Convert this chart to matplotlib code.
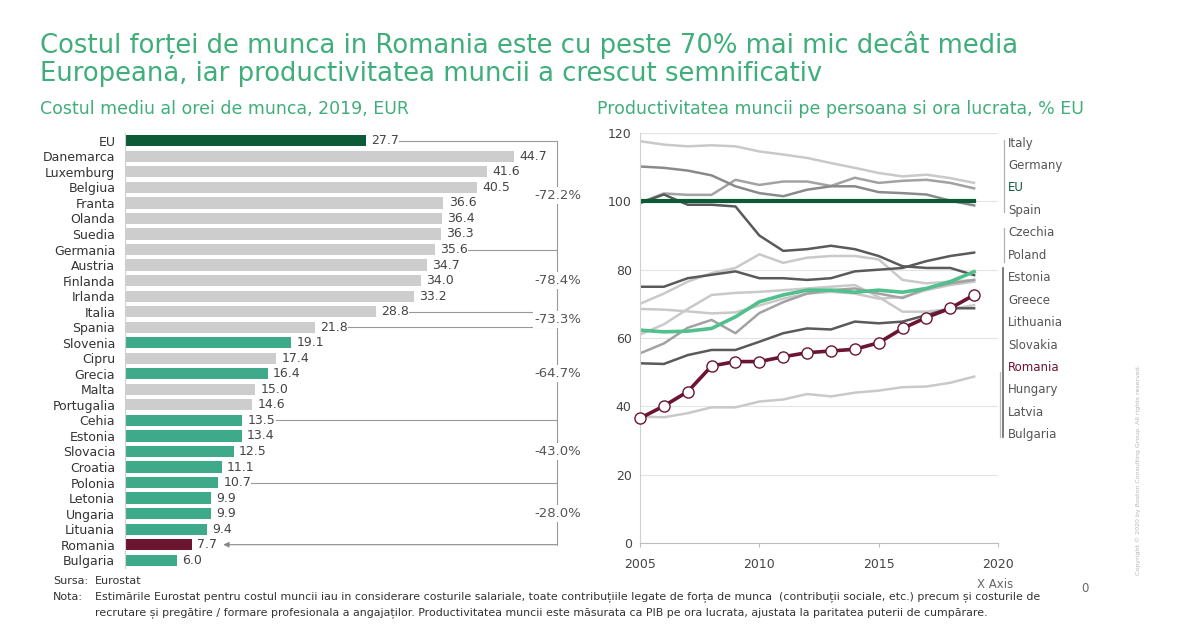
import matplotlib
matplotlib.use("Agg")
import matplotlib.pyplot as plt
from matplotlib.lines import Line2D

# ---- data: labour cost per hour, 2019, EUR ----
countries = ["EU", "Danemarca", "Luxemburg", "Belgiua", "Franta", "Olanda", "Suedia",
             "Germania", "Austria", "Finlanda", "Irlanda", "Italia", "Spania", "Slovenia",
             "Cipru", "Grecia", "Malta", "Portugalia", "Cehia", "Estonia", "Slovacia",
             "Croatia", "Polonia", "Letonia", "Ungaria", "Lituania", "Romania", "Bulgaria"]
cost = [27.7, 44.7, 41.6, 40.5, 36.6, 36.4, 36.3, 35.6, 34.7, 34.0, 33.2, 28.8, 21.8, 19.1,
        17.4, 16.4, 15.0, 14.6, 13.5, 13.4, 12.5, 11.1, 10.7, 9.9, 9.9, 9.4, 7.7, 6.0]
group = ["eu", "w", "w", "w", "w", "w", "w", "w", "w", "w", "w", "w", "w", "e",
         "w", "e", "w", "w", "e", "e", "e", "e", "e", "e", "e", "e", "ro", "e"]

# Romania compared with these countries
compare_with = ["EU", "Germania", "Italia", "Spania", "Cehia", "Polonia"]
compare_pct = ["-72.2%", "-78.4%", "-73.3%", "-64.7%", "-43.0%", "-28.0%"]

# ---- data: labour productivity per hour, % EU ----
years = [2005, 2006, 2007, 2008, 2009, 2010, 2011, 2012, 2013, 2014, 2015, 2016, 2017, 2018, 2019]
italy = [117.6, 116.6, 116.1, 116.4, 116.1, 114.6, 113.7, 112.7, 111.2, 109.8, 108.3, 107.3, 107.8, 106.8, 105.4]
germany = [99.6, 102.3, 101.9, 101.9, 106.3, 104.8, 105.8, 105.8, 104.5, 106.9, 105.4, 106.0, 106.3, 105.4, 103.8]
spain = [110.2, 109.8, 109.0, 107.6, 104.4, 102.4, 101.5, 103.4, 104.4, 104.4, 102.7, 102.4, 102.0, 100.2, 98.8]
eu = [100, 100, 100, 100, 100, 100, 100, 100, 100, 100, 100, 100, 100, 100, 100]
greece = [99.5, 102.0, 99.0, 99.0, 98.5, 90.0, 85.5, 86.0, 87.0, 86.0, 84.0, 81.0, 80.5, 80.5, 78.4]
czechia = [75.0, 75.0, 77.5, 78.5, 79.5, 77.5, 77.5, 77.0, 77.5, 79.5, 80.0, 80.5, 82.5, 84.0, 85.0]
slovakia = [70.0, 73.0, 76.5, 79.0, 80.5, 84.5, 82.0, 83.5, 84.0, 84.0, 83.0, 77.0, 76.0, 76.5, 77.0]
poland = [62.3, 61.8, 62.0, 62.8, 66.2, 70.6, 72.6, 74.0, 74.0, 73.4, 74.0, 73.4, 74.5, 76.5, 79.4]
lithuania = [55.5, 58.4, 63.0, 65.3, 61.4, 67.3, 70.5, 73.0, 74.0, 74.5, 73.0, 71.7, 74.5, 76.0, 77.0]
estonia = [61.0, 64.0, 68.5, 72.6, 73.2, 73.5, 74.0, 74.5, 75.0, 75.5, 72.0, 67.7, 67.7, 68.5, 69.6]
hungary = [68.5, 68.3, 67.8, 67.2, 67.5, 69.5, 71.5, 73.0, 73.5, 73.0, 71.5, 72.0, 74.0, 75.5, 76.5]
latvia = [52.6, 52.4, 55.0, 56.5, 56.5, 58.9, 61.4, 62.8, 62.5, 64.8, 64.3, 64.8, 66.7, 68.7, 68.7]
romania = [36.5, 40.1, 44.3, 51.8, 53.1, 53.1, 54.5, 55.7, 56.2, 56.7, 58.6, 62.8, 66.0, 68.7, 72.6]
bulgaria = [37.0, 36.8, 38.0, 39.7, 39.7, 41.4, 42.0, 43.6, 42.9, 44.0, 44.6, 45.6, 45.8, 46.9, 48.7]

label_names = ["Italy", "Germany", "EU", "Spain", "Czechia", "Poland", "Estonia", "Greece",
               "Lithuania", "Slovakia", "Romania", "Hungary", "Latvia", "Bulgaria"]

# colours
GREEN_TITLE = "#3fae7a"
EU_GREEN = "#0d5a36"
TEAL = "#3faa8a"
BAR_GRAY = "#cdcdcd"
RO_RED = "#6b1530"
TXT = "#444444"
LIGHT = "#c9c9c9"
MID = "#a2a2a2"
DARK = "#5a5a5a"

plt.rcParams["font.family"] = ["DejaVu Sans"]

fig = plt.figure(figsize=(12, 6.4), dpi=100)

# titles
fig.text(40 / 1200, 1 - 45 / 640, "Costul forței de munca in Romania este cu peste 70% mai mic decât media",
         fontsize=18.6, color=GREEN_TITLE, va="center")
fig.text(40 / 1200, 1 - 74 / 640, "Europeana, iar productivitatea muncii a crescut semnificativ",
         fontsize=18.6, color=GREEN_TITLE, va="center")
fig.text(40 / 1200, 1 - 109 / 640, "Costul mediu al orei de munca, 2019, EUR",
         fontsize=12.5, color=GREEN_TITLE, va="center")
fig.text(597 / 1200, 1 - 109 / 640, "Productivitatea muncii pe persoana si ora lucrata, % EU",
         fontsize=12.5, color=GREEN_TITLE, va="center")

# ---------------- left: bar chart ----------------
ax1 = fig.add_axes([125 / 1200, 72 / 640, 475 / 1200, 435 / 640])
colour_map = {"eu": EU_GREEN, "w": BAR_GRAY, "e": TEAL, "ro": RO_RED}
rows = list(range(len(countries)))
ax1.barh(rows, cost, height=0.72, color=[colour_map[g] for g in group])
ax1.set_xlim(0, 54.6)
ax1.set_ylim(len(countries) - 0.5, -0.5)
ax1.set_yticks(rows)
ax1.set_yticklabels(countries, fontsize=9, color="#333333")
ax1.tick_params(axis="y", length=0, pad=7)
ax1.set_xticks([])
for s in ["top", "right", "bottom"]:
    ax1.spines[s].set_visible(False)
ax1.spines["left"].set_color("#d0d0d0")

for i, v in enumerate(cost):
    ax1.text(v + 0.6, i, f"{v:.1f}", va="center", ha="left", fontsize=9, color=TXT)

# bracket comparing Romania with other countries
line_x = 49.6
ro_row = countries.index("Romania")
tick_rows = [countries.index(c) for c in compare_with]
ax1.plot([line_x, line_x], [tick_rows[0], ro_row], color="#999999", lw=0.8)
for r in tick_rows:
    ax1.plot([cost[r] + 3.8, line_x], [r, r], color="#999999", lw=0.8)
ax1.annotate("", xy=(cost[ro_row] + 3.6, ro_row), xytext=(line_x, ro_row),
             arrowprops=dict(arrowstyle="-|>", color="#888888", lw=0.8, mutation_scale=8,
                             shrinkA=0, shrinkB=0))
bounds = tick_rows + [ro_row]
for k, pct in enumerate(compare_pct):
    mid = (bounds[k] + bounds[k + 1]) / 2
    ax1.text(line_x + 0.2, mid, pct, ha="center", va="center", fontsize=9.5, color="#555555",
             bbox=dict(facecolor="white", edgecolor="none", pad=1.5))

# ---------------- right: line chart ----------------
ax2 = fig.add_axes([640 / 1200, 97 / 640, 358 / 1200, 410 / 640])
ax2.set_xlim(2005, 2020)
ax2.set_ylim(0, 120)
ax2.set_yticks([0, 20, 40, 60, 80, 100, 120])
ax2.set_xticks([2005, 2010, 2015, 2020])
ax2.grid(axis="y", color="#e3e3e3", lw=0.8)
ax2.set_axisbelow(True)
for s in ["top", "right"]:
    ax2.spines[s].set_visible(False)
ax2.spines["left"].set_color("#d0d0d0")
ax2.spines["bottom"].set_color("#bdbdbd")
ax2.tick_params(axis="both", labelsize=9, colors=TXT, length=3)
ax2.tick_params(axis="y", length=0, pad=6)
ax2.tick_params(axis="x", color="#bdbdbd", pad=8)

ax2.plot(years, italy, color=LIGHT, lw=1.8)
ax2.plot(years, bulgaria, color=LIGHT, lw=1.8)
ax2.plot(years, hungary, color=LIGHT, lw=1.8)
ax2.plot(years, estonia, color=LIGHT, lw=1.8)
ax2.plot(years, slovakia, color=LIGHT, lw=1.8)
ax2.plot(years, germany, color=MID, lw=1.8)
ax2.plot(years, lithuania, color=MID, lw=1.8)
ax2.plot(years, spain, color="#8a8a8a", lw=1.8)
ax2.plot(years, greece, color=DARK, lw=1.8)
ax2.plot(years, czechia, color=DARK, lw=1.8)
ax2.plot(years, latvia, color=DARK, lw=1.8)
ax2.plot(years, poland, color="#52c08c", lw=2.6)
ax2.plot(years, eu, color=EU_GREEN, lw=3)
ax2.plot(years, romania, color=RO_RED, lw=2.6, marker="o", markersize=8,
         markerfacecolor="white", markeredgecolor=RO_RED, markeredgewidth=1, clip_on=False, zorder=5)

# series names column on the right
for i, name in enumerate(label_names):
    c = "#555555"
    if name == "EU":
        c = EU_GREEN
    elif name == "Romania":
        c = RO_RED
    fig.text(1008 / 1200, 1 - (143 + i * 22.45) / 640, name, fontsize=8.5, color=c, va="center")

# bracket strokes next to the names
def vline(y0, y1, x, col, lw=0.9):
    fig.add_artist(Line2D([x / 1200, x / 1200], [1 - y0 / 640, 1 - y1 / 640], color=col, lw=lw))

vline(140, 212, 1004, "#b0b0b0")
vline(228, 262, 1004, "#b0b0b0")
vline(268, 437, 1003, "#666666", 1.2)
vline(372, 437, 1000, "#bbbbbb")

# footer
foot = ["Liberation Sans Narrow", "DejaVu Sans"]
fig.text(53 / 1200, 1 - 581 / 640, "Sursa:", fontsize=8, color="#333333", va="center", family=foot)
fig.text(95 / 1200, 1 - 581 / 640, "Eurostat", fontsize=8, color="#333333", va="center", family=foot)
fig.text(53 / 1200, 1 - 597 / 640, "Nota:", fontsize=8, color="#333333", va="center", family=foot)
fig.text(95 / 1200, 1 - 597 / 640,
         "Estimările Eurostat pentru costul muncii iau in considerare costurile salariale, toate contribuțiile "
         "legate de forța de munca  (contribuții sociale, etc.) precum și costurile de",
         fontsize=7.9, color="#333333", va="center", family=foot)
fig.text(95 / 1200, 1 - 613 / 640,
         "recrutare și pregătire / formare profesionala a angajaților. Productivitatea muncii este măsurata ca "
         "PIB pe ora lucrata, ajustata la paritatea puterii de cumpărare.",
         fontsize=7.9, color="#333333", va="center", family=foot)
fig.text(995 / 1200, 1 - 585 / 640, "X Axis", fontsize=8.5, color="#666666", ha="center", va="center")
fig.text(1085 / 1200, 1 - 589 / 640, "0", fontsize=8.5, color="#666666", ha="center", va="center")
fig.text(1138 / 1200, 1 - 470 / 640, "Copyright © 2020 by Boston Consulting Group. All rights reserved.",
         fontsize=4.5, color="#b5b5b5", rotation=90, ha="center", va="center")

fig.savefig("out.png", dpi=100)
